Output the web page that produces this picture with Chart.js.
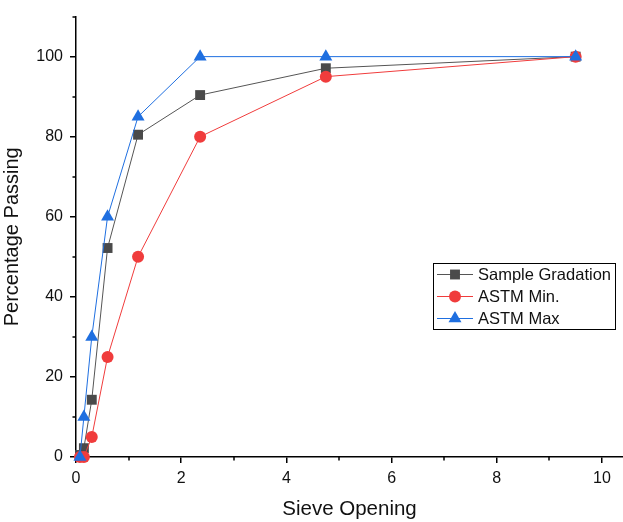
<!DOCTYPE html>
<html>
<head>
<meta charset="utf-8">
<script src="https://cdn.jsdelivr.net/npm/chart.js@4/dist/chart.umd.min.js"></script>
<style>
  html, body { margin: 0; padding: 0; background: #fff; }
  #wrap { width: 623px; height: 522px; }
</style>
</head>
<body>
<div id="wrap"><canvas id="gradation"></canvas></div>
<script>
// sieve opening (mm) and percentage passing
const sieve = [0.075, 0.15, 0.3, 0.6, 1.18, 2.36, 4.75, 9.5];
const sampleGradation = [0.5, 2.2, 14.3, 52.2, 80.5, 90.4, 97.1, 100];
const astmMin = [0, 0, 5, 25, 50, 80, 95, 100];
const astmMax = [0, 10, 30, 60, 85, 100, 100, 100];

const seriesNames = ['Sample Gradation', 'ASTM Min.', 'ASTM Max'];
const xMinorTicks = [1, 3, 5, 7, 9];
const yMinorTicks = [10, 30, 50, 70, 90, 110];

function toPoints(ys) {
  return sieve.map((x, i) => ({x: x, y: ys[i]}));
}

const FONT = 'Liberation Sans, Arial, sans-serif';

// small outward ticks between the labelled ones
const minorTicks = {
  id: 'minorTicks',
  afterDraw(chart) {
    const ctx = chart.ctx;
    const xs = chart.scales.x, ys = chart.scales.y;
    ctx.save();
    ctx.strokeStyle = '#000';
    ctx.lineWidth = 1.5;
    ctx.beginPath();
    xMinorTicks.forEach(v => {
      const px = Math.round(xs.getPixelForValue(v));
      ctx.moveTo(px, xs.top);
      ctx.lineTo(px, xs.top + 3.5);
    });
    yMinorTicks.forEach(v => {
      const py = Math.round(ys.getPixelForValue(v));
      ctx.moveTo(ys.right, py);
      ctx.lineTo(ys.right - 3.5, py);
    });
    ctx.stroke();
    ctx.restore();
  }
};

// boxed legend inside the plot, line + marker per row
const boxLegend = {
  id: 'boxLegend',
  afterDraw(chart) {
    const ctx = chart.ctx;
    const left = 433, top = 263, w = 182, h = 66, rowH = 22;
    ctx.save();
    ctx.fillStyle = '#fff';
    ctx.fillRect(left, top, w, h);
    ctx.strokeStyle = '#000';
    ctx.lineWidth = 1;
    ctx.strokeRect(left + 0.5, top + 0.5, w, h);
    chart.data.datasets.forEach((ds, i) => {
      const cy = top + 11.5 + i * rowH;
      ctx.strokeStyle = ds.borderColor;
      ctx.lineWidth = 1;
      ctx.beginPath();
      ctx.moveTo(left + 4, cy);
      ctx.lineTo(left + 40, cy);
      ctx.stroke();
      ctx.fillStyle = ds.pointBackgroundColor;
      ctx.strokeStyle = ds.pointBackgroundColor;
      Chart.helpers.drawPoint(ctx, {
        pointStyle: ds.pointStyle,
        radius: ds.pointRadius,
        borderWidth: 0,
        rotation: 0
      }, left + 22, cy);
      ctx.fillStyle = '#111';
      ctx.font = '16.5px ' + FONT;
      ctx.textBaseline = 'middle';
      ctx.fillText(ds.label, left + 45, cy + 1);
    });
    ctx.restore();
  }
};

new Chart('gradation', {
  type: 'line',
  data: {
    datasets: [
      {
        label: seriesNames[0],
        data: toPoints(sampleGradation),
        borderColor: '#555555',
        borderWidth: 1,
        pointStyle: 'rect',
        pointRadius: 7,
        pointBackgroundColor: '#4a4a4a',
        pointBorderWidth: 0,
        order: 3
      },
      {
        label: seriesNames[1],
        data: toPoints(astmMin),
        borderColor: '#f03c3c',
        borderWidth: 1,
        pointStyle: 'circle',
        pointRadius: 6,
        pointBackgroundColor: '#f03c3c',
        pointBorderWidth: 0,
        order: 2
      },
      {
        label: seriesNames[2],
        data: toPoints(astmMax),
        borderColor: '#1f6fe0',
        borderWidth: 1,
        pointStyle: 'triangle',
        pointRadius: 7.5,
        pointBackgroundColor: '#1f6fe0',
        pointBorderWidth: 0,
        order: 1
      }
    ]
  },
  options: {
    responsive: true,
    maintainAspectRatio: false,
    animation: false,
    clip: false,
    layout: {autoPadding: false, padding: {top: 15, right: 0, left: 0, bottom: 0}},
    plugins: {legend: {display: false}, tooltip: {enabled: false}},
    scales: {
      x: {
        type: 'linear',
        min: 0,
        max: 10.4,
        afterFit(s) { s.height = 65; },
        afterBuildTicks(s) { s.ticks = [0, 2, 4, 6, 8, 10].map(v => ({value: v})); },
        border: {display: true, color: '#000', width: 1.5},
        grid: {drawOnChartArea: false, drawTicks: true, tickLength: 6, color: '#000', lineWidth: 1.5},
        ticks: {color: '#111', font: {family: FONT, size: 16}, padding: 6, maxRotation: 0},
        title: {display: true, text: 'Sieve Opening', color: '#111', font: {family: FONT, size: 20.5}, padding: {top: 8, bottom: 0}}
      },
      y: {
        min: 0,
        max: 110,
        afterFit(s) { s.width = 76; },
        afterBuildTicks(s) { s.ticks = [0, 20, 40, 60, 80, 100].map(v => ({value: v})); },
        border: {display: true, color: '#000', width: 1.5},
        grid: {drawOnChartArea: false, drawTicks: true, tickLength: 6, color: '#000', lineWidth: 1.5},
        ticks: {color: '#111', font: {family: FONT, size: 16}, padding: 7},
        title: {display: true, text: 'Percentage Passing', color: '#111', font: {family: FONT, size: 20}, padding: {top: 0, bottom: 6}}
      }
    }
  },
  plugins: [minorTicks, boxLegend]
});
</script>
</body>
</html>
